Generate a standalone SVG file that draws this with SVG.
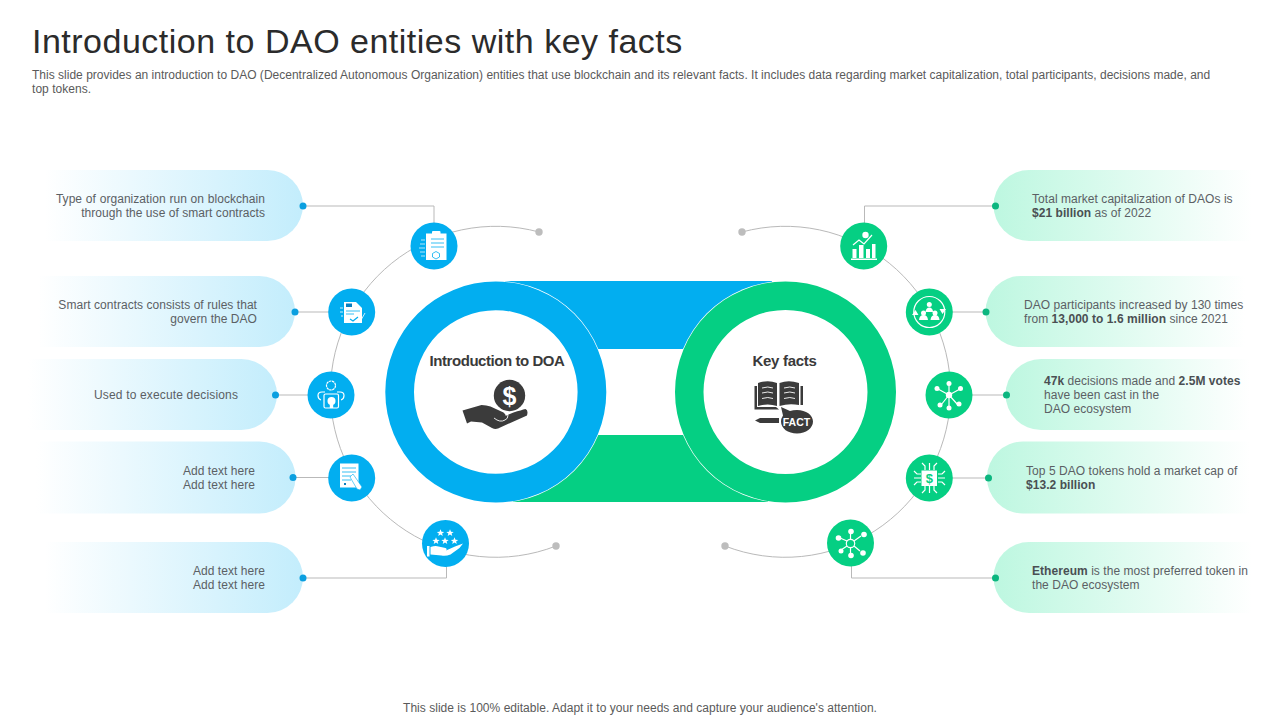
<svg xmlns="http://www.w3.org/2000/svg" xmlns:xlink="http://www.w3.org/1999/xlink" width="1280" height="720" viewBox="0 0 1280 720">
<style>
text{font-family:"Liberation Sans",Arial,sans-serif}
.t{font-size:12px;fill:#5b6064;letter-spacing:.05px}
.e{text-anchor:end}
.b{font-weight:bold;fill:#4a4f53}
.c{fill:none;stroke:#b9b9b9;stroke-width:1}
.bd{fill:#0a9fe0}.gd{fill:#0bb67f}
.bc{fill:#02aef0}.gc{fill:#05cf83}
.w{fill:#fff}
.ws{fill:none;stroke:#fff;stroke-width:1.2}
.bl{fill:none;stroke:#02aef0;stroke-width:.8}
.gl{fill:none;stroke:#05cf83;stroke-width:.8}
.dk{fill:#3b3b3b}
.lab{font-size:15px;font-weight:bold;fill:#3a3a3a;text-anchor:middle;letter-spacing:-.45px}
</style>
<defs>
<linearGradient id="gb" x1="0" x2="1" y1="0" y2="0"><stop offset="0" stop-color="#fff"/><stop offset="1" stop-color="#c3edfc"/></linearGradient>
<linearGradient id="gg" x1="0" x2="1" y1="0" y2="0"><stop offset="0" stop-color="#bdf7e0"/><stop offset="1" stop-color="#fff"/></linearGradient>
<polygon id="star" class="w" points="0,-3.800 1,-1.200 3.700,-1.100 1.600,.5 2.300,3.100 0,1.600 -2.300,3.100 -1.600,.5 -3.700,-1.100 -1,-1.200"/>
</defs>
<rect width="1280" height="720" fill="#fff"/>
<text x="32" y="52.500" font-size="34" fill="#2b2b2b" letter-spacing=".5">Introduction to DAO entities with key facts</text>
<text x="32" y="78.500" class="t" style="fill:#5a5a5a;letter-spacing:.01px">This slide provides an introduction to DAO  (Decentralized Autonomous Organization) entities that use blockchain and its relevant facts. It includes data regarding market capitalization, total participants, decisions made, and</text>
<text x="32" y="92.500" class="t" style="fill:#5a5a5a">top tokens.</text>

<g id="pills-fill">
<path fill="url(#gb)" d="M45 170H267.500A35.500 35.500 0 0 1 267.500 241H45Z"/>
<path fill="url(#gb)" d="M38 276H259.500A35.500 35.500 0 0 1 259.500 347H38Z"/>
<path fill="url(#gb)" d="M28 359H241.500A35.500 35.500 0 0 1 241.500 430H28Z"/>
<path fill="url(#gb)" d="M36 441.500H259.500A36 36 0 0 1 259.500 513.500H36Z"/>
<path fill="url(#gb)" d="M45 542H267.500A35.500 35.500 0 0 1 267.500 613H45Z"/>
<path fill="url(#gg)" d="M1252 170H1029A35.500 35.500 0 0 0 1029 241H1252Z"/>
<path fill="url(#gg)" d="M1245 276H1021A35.500 35.500 0 0 0 1021 347H1245Z"/>
<path fill="url(#gg)" d="M1250 359H1041A35.500 35.500 0 0 0 1041 430H1250Z"/>
<path fill="url(#gg)" d="M1250 441.500H1023A36 36 0 0 0 1023 513.500H1250Z"/>
<path fill="url(#gg)" d="M1252 542H1029A35.500 35.500 0 0 0 1029 613H1252Z"/>
</g>

<g id="connectors">
<path class="c" d="M539 232A165.500 165.500 0 1 0 556 546"/>
<path class="c" d="M742 232A165.500 165.500 0 1 1 725 546"/>
<path class="c" d="M303 206H434V225M295 312H330M275 395H310M293 477.500H330M303 578H446.500V565"/>
<path class="c" d="M995.500 206H864.500V225M986 312H950M1006 395H970M988 478H950M995.500 578H851.500V565"/>
<circle cx="539" cy="232" r="3.700" fill="#bdbdbd"/>
<circle cx="556" cy="546" r="3.700" fill="#bdbdbd"/>
<circle cx="742" cy="232" r="3.700" fill="#bdbdbd"/>
<circle cx="725" cy="546" r="3.700" fill="#bdbdbd"/>
<g class="bd"><circle cx="303" cy="206" r="3.500"/><circle cx="295" cy="312" r="3.500"/><circle cx="275.500" cy="395" r="3.500"/><circle cx="293" cy="477.500" r="3.500"/><circle cx="303" cy="578" r="3.500"/></g>
<g class="gd"><circle cx="995.500" cy="206" r="3.500"/><circle cx="986" cy="312" r="3.500"/><circle cx="1006.500" cy="395" r="3.500"/><circle cx="988.500" cy="478" r="3.500"/><circle cx="995.500" cy="578" r="3.500"/></g>
</g>

<g id="bands">
<rect x="505" y="281" width="267" height="68" class="bc"/>
<rect x="513" y="435" width="255" height="67" class="gc"/>
</g>

<g id="hub-key-facts">
<circle cx="785.500" cy="392" r="111.200" class="w"/>
<path class="gc" fill-rule="evenodd" d="M675 392a110.500 110.500 0 1 0 221 0a110.500 110.500 0 1 0 -221 0ZM703.500 392a82 82 0 1 1 164 0a82 82 0 1 1 -164 0Z"/>
<text x="784.500" y="366" class="lab" style="letter-spacing:-.3px">Key facts</text>
<g>
<path class="dk" d="M754.500 386h2.500v21h19l3 2.500h-24.500ZM803 386h-2.500v19h2.500Z"/>
<path class="dk" d="M758 383q10-3.500 19 0v23q-9-3-19 0ZM779.500 383q9-3.500 19.500 0v22q-10-2-19.500 1Z"/>
<path fill="none" stroke="#fff" stroke-width=".9" d="M762 388q6-2 11 0M762 393q6-2 11 0M762 398.500q6-2 11 0M784 388q6-2 11 0M784 393q6-2 11 0M784 398.500q6-2 11 0"/>
<path class="dk" d="M755 420.500l5-2.500h19v5h-19Z"/>
<path class="dk" d="M781 407l9 4q3-1 7-1c9 0 16 5 16 11.500s-7 12-16 12s-16-5-16-12q0-3 2-6Z"/>
<text x="796.500" y="425.500" font-size="10.500" font-weight="bold" fill="#fff" text-anchor="middle">FACT</text>
</g>
</g>

<g id="hub-introduction">
<circle cx="495.800" cy="392" r="111.200" class="w"/>
<path class="bc" fill-rule="evenodd" d="M385.300 392a110.500 110.500 0 1 0 221 0a110.500 110.500 0 1 0 -221 0ZM414 392a81.800 81.800 0 1 1 163.600 0a81.800 81.800 0 1 1 -163.600 0Z"/>
<text x="497" y="366" class="lab">Introduction to DOA</text>
<g>
<circle cx="509.500" cy="395.500" r="15.700" class="dk"/>
<text x="509.500" y="404.500" font-size="25" font-weight="bold" fill="#fff" text-anchor="middle">$</text>
<path class="dk" d="M462.500 410.500l19-5.500q5 0 9 1.500l13 6q3 2 2 5l-6 1l14-6q8-2.500 12-3.500q3 1 1.500 6.500l-29 13q-3 1-6-.5l-10-5.500l-11-1l-4 2Z"/>
<path fill="none" stroke="#fff" stroke-width=".9" d="M494 418q6 5 11 2q3-1 3-5"/>
</g>
</g>

<g id="icon-left-1">
<circle cx="434" cy="246" r="23.500" class="bc"/>
<rect x="426" y="233.500" width="20.500" height="26.500" class="w"/>
<rect x="432" y="231" width="8.500" height="4" rx="1" class="w"/>
<path class="bl" d="M431 239h13M431 243h13M431 247h13"/>
<path class="bl" d="M436 252l3.500 2v3.500l-3.500 2l-3.500-2v-3.500Z" transform="translate(0 -.5)"/>
<path class="ws" style="stroke-width:.7" d="M421 240h4M420 244h5M419 248h6M420 252h5M421 256h4"/>
</g>
<g id="icon-left-2">
<circle cx="351.700" cy="312" r="23.500" class="bc"/>
<path class="w" d="M344 302h12l6 6v15h-18Z"/>
<rect x="346" y="303.500" width="6" height="3.500" fill="#0a7fc0"/>
<path class="bl" d="M346 311h14M346 314h8"/>
<path class="ws" style="stroke:#02aef0" d="M350 319l3 2l5-4"/>
<path class="ws" style="stroke-width:.8" d="M361 320l4-7M340 308h3M340 312h3M341 316h2"/>
</g>
<g id="icon-left-3">
<circle cx="331" cy="395" r="23.500" class="bc"/>
<circle cx="331" cy="385.500" r="4.500" class="ws" stroke-width="1.800" stroke-dasharray="2.500 .6"/>
<path class="ws" d="M325 392h-3q-4 0-4 3.500t3 4.500M337 392h3q4 0 4 3.500t-3 4.500"/>
<rect x="324" y="394" width="14.500" height="14" rx="1.500" class="ws"/>
<circle cx="331.500" cy="401" r="4" class="w"/>
<rect x="329.800" y="404" width="3.400" height="4" class="w"/>
</g>
<g id="icon-left-4">
<circle cx="351.700" cy="478" r="23.500" class="bc"/>
<rect x="340" y="463.500" width="18.500" height="24" class="w"/>
<path class="bl" d="M342 468h14M342 472h14M342 476h9M342 480h9"/>
<rect x="344" y="483" width="2" height="2" fill="#0a7fc0"/>
<path d="M353 474l9 13l-2 3l-3-1l-7-12Z" fill="#fff" stroke="#02aef0" stroke-width=".6"/>
</g>
<g id="icon-left-5">
<circle cx="445.500" cy="543.500" r="23.500" class="bc"/>
<use xlink:href="#star" x="440.500" y="533"/><use xlink:href="#star" x="450" y="533"/>
<use xlink:href="#star" x="436" y="541"/><use xlink:href="#star" x="445" y="541"/><use xlink:href="#star" x="454.500" y="541"/>
<path class="w" d="M427 546h2.500v10.500H427ZM430.500 547q5-1.500 8-.5l7 1.500q2 1 .5 2.500l-6 .5l6-.5l9-4l8-3l-3.500 4.500l-9 6.500q-5 2-9 1l-11-1Z"/>
</g>

<g id="icon-right-1">
<circle cx="863.700" cy="246" r="23.500" class="gc"/>
<path class="w" d="M852.500 249h4v9h-4ZM859 245h4.500v13H859ZM866 249h4v9h-4ZM872 244h3.500v14H872Z"/>
<rect x="851" y="258.500" width="26" height="1.500" class="w"/>
<path class="ws" d="M853 245l6-5l5 4l8-9"/>
<circle cx="865.500" cy="235" r="3.200" class="w"/>
</g>
<g id="icon-right-2">
<circle cx="929.300" cy="312" r="23.500" class="gc"/>
<circle cx="929.300" cy="312" r="15.500" class="ws" stroke-width=".9"/>
<path class="w" d="M912 315l3.500-5l3 5ZM946 309l-3.500 5l-3-5Z"/>
<circle cx="929.300" cy="304.500" r="2.500" class="w"/>
<path class="w" d="M925.500 312q.5-4.500 3.800-4.500t3.800 4.500Z"/>
<circle cx="923.500" cy="313" r="2.500" class="w"/><circle cx="935" cy="313" r="2.500" class="w"/>
<path class="w" d="M919 320q.5-5 4.500-5t4.500 5ZM930.500 320q.5-5 4.500-5t4.500 5Z"/>
</g>
<g id="icon-right-3">
<circle cx="949" cy="395" r="23.500" class="gc"/>
<path class="ws" stroke-width=".9" d="M949 395L938 389M949 395L949 384M949 395L960 389M949 395L941 405M949 395L949 408M949 395L958 405"/>
<circle cx="949" cy="395" r="3.200" class="w"/>
<circle cx="937" cy="388.500" r="2.500" class="w"/><circle cx="949" cy="383.500" r="2.500" class="w"/><circle cx="960.500" cy="388.500" r="2.500" class="w"/><circle cx="940" cy="405" r="2.500" class="w"/><circle cx="949" cy="408" r="2.500" class="w"/><circle cx="959" cy="404" r="2.500" class="w"/>
</g>
<g id="icon-right-4">
<circle cx="929.300" cy="478" r="23.500" class="gc"/>
<rect x="921.500" y="470.500" width="15.500" height="15.500" class="w"/>
<text x="929.300" y="483" font-size="13" font-weight="bold" fill="#05cf83" text-anchor="middle">$</text>
<path class="ws" stroke-width=".8" d="M925 470v-4l-3-3M929.500 470v-7M934 470v-4l3-3M925 486v4l-3 3M929.500 486v7M934 486v4l3 3M921 474h-4l-3-3M921 478h-7M921 482h-4l-3 3M938 474h4l3-3M938 478h7M938 482h4l3 3"/>
</g>
<g id="icon-right-5">
<circle cx="850.500" cy="543" r="23.500" class="gc"/>
<circle cx="850.500" cy="543.500" r="4.200" class="ws" stroke-width=".9"/>
<path class="ws" stroke-width=".9" d="M850.500 539v-8M847 541l-7-3M854 541l7-5M847 546l-6 4M850.500 548v7M854 546l6 5"/>
<circle cx="851" cy="531.500" r="2.800" class="w"/><circle cx="838.500" cy="538" r="2.800" class="w"/><circle cx="864" cy="534.500" r="2.800" class="w"/><circle cx="841" cy="551" r="2.500" class="w"/><circle cx="851" cy="555.500" r="2.800" class="w"/><circle cx="863" cy="553" r="2.800" class="w"/>
</g>

<g id="text-left">
<text class="t e" x="265" y="203" style="word-spacing:.35px">Type of organization run on blockchain</text>
<text class="t e" x="265" y="217">through the use of smart contracts</text>
<text class="t e" x="257" y="309">Smart contracts consists of rules that</text>
<text class="t e" x="257" y="323">govern the DAO</text>
<text class="t" x="94" y="399" style="letter-spacing:.16px">Used to execute decisions</text>
<text class="t e" x="255" y="475">Add text here</text>
<text class="t e" x="255" y="489">Add text here</text>
<text class="t e" x="265" y="575">Add text here</text>
<text class="t e" x="265" y="589">Add text here</text>
</g>
<g id="text-right">
<text class="t" x="1032" y="203">Total market capitalization of DAOs is</text>
<text class="t" x="1032" y="217"><tspan class="b">$21 billion</tspan>  as of 2022</text>
<text class="t" x="1024" y="309">DAO participants increased by 130 times</text>
<text class="t" x="1024" y="323">from <tspan class="b">13,000 to 1.6 million</tspan>  since 2021</text>
<text class="t" x="1044" y="385"><tspan class="b">47k</tspan> decisions made and <tspan class="b">2.5M votes</tspan></text>
<text class="t" x="1044" y="399">have been cast in the</text>
<text class="t" x="1044" y="413">DAO ecosystem</text>
<text class="t" x="1026" y="475">Top 5 DAO tokens hold a market cap of</text>
<text class="t" x="1026" y="489"><tspan class="b">$13.2 billion</tspan></text>
<text class="t" x="1032" y="575"><tspan class="b">Ethereum</tspan> is the most preferred token in</text>
<text class="t" x="1032" y="589">the DAO ecosystem</text>
</g>
<text x="640" y="712" class="t" text-anchor="middle" style="fill:#5a5a5a;letter-spacing:.03px">This slide is 100% editable. Adapt it to your needs and capture your audience's attention.</text>
</svg>
